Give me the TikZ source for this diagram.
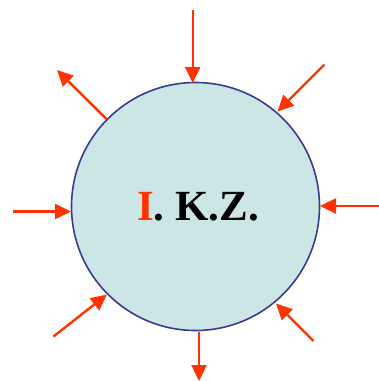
\documentclass[tikz,border=0pt]{standalone}
\usepackage{fontspec}
\setmainfont{Liberation Serif}
\usetikzlibrary{arrows.meta}
\definecolor{arr}{HTML}{FF3300}
\definecolor{cfill}{HTML}{CCE5E5}
\definecolor{cline}{HTML}{3A3A94}
\tikzset{
  flow/.style={draw=arr, line width=2.4pt, -{Triangle[length=16pt,width=15pt]}},
  ball/.style={circle, draw=cline, fill=cfill, line width=1.6pt, minimum size=248pt, inner sep=0pt}
}
\begin{document}
\begin{tikzpicture}[x=1pt,y=-1pt]
\useasboundingbox (0,0) rectangle (379,381);
\node[ball] (c) at (195.5,206.5) {};
\node[font=\bfseries\fontsize{43}{43}\selectfont, inner sep=0pt] (t) at (198,207) {\textcolor{arr}{I}. K.Z.};
% free ends
\coordinate (n0) at (192.7,10);   \coordinate (n1) at (192.7,83);
\coordinate (ne0) at (324.5,64.5); \coordinate (ne1) at (277.5,111.5);
\coordinate (e0) at (379,206);    \coordinate (e1) at (320,206);
\coordinate (se0) at (313.5,341); \coordinate (se1) at (276,303.5);
\coordinate (s0) at (199,331.5);  \coordinate (s1) at (199,381);
\coordinate (sw0) at (53.5,336.5); \coordinate (sw1) at (107,294.5);
\coordinate (w0) at (13,211.5);   \coordinate (w1) at (71,211.5);
\coordinate (nw0) at (106.5,119); \coordinate (nw1) at (57,70);
\draw[flow] (n0) -- (n1);
\draw[flow] (ne0) -- (ne1);
\draw[flow] (e0) -- (e1);
\draw[flow] (se0) -- (se1);
\draw[flow] (s0) -- (s1);
\draw[flow] (sw0) -- (sw1);
\draw[flow] (w0) -- (w1);
\draw[flow] (nw0) -- (nw1);
\end{tikzpicture}
\end{document}
